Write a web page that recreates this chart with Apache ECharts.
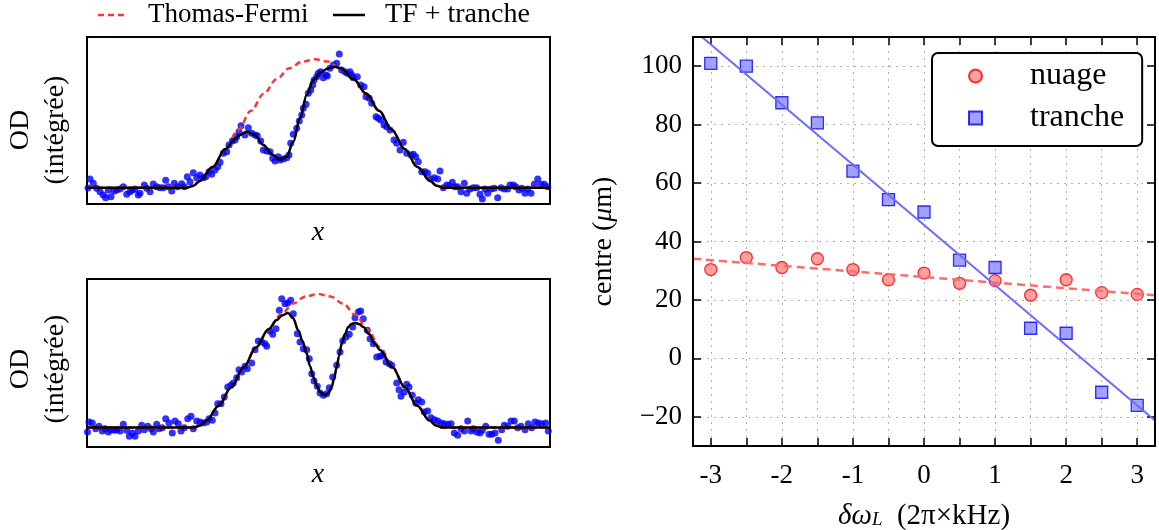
<!DOCTYPE html>
<html><head><meta charset="utf-8">
<script src="https://cdn.jsdelivr.net/npm/echarts@6/dist/echarts.min.js"></script>
<style>html,body{margin:0;padding:0;background:#fff}#c{width:1159px;height:530px}</style>
</head><body><div id="c"></div>
<script>
// ---------- left panels: integrated optical density profiles (arbitrary units) ----------
const topDots = [[1,16],[3,25],[6.3,20.7],[9.7,15.7],[13,12.3],[16.3,9],[18.7,6.3],[21.3,14],[24,7.3],[27.3,13],[29.7,14],[33,15],[36.3,17.3],[39.7,9.7],[43,12.3],[45.3,14],[48,15],[51.3,9],[53,10.7],[57.3,19],[59.7,15.7],[63,12.3],[66.3,20],[69.7,17.3],[73,16.3],[76.3,16.3],[78.7,23.7],[81.3,17.3],[84.7,13],[87.3,20.7],[90.7,17.3],[94.7,20.3],[97.3,17.3],[100.3,27.3],[103,22.3],[106.3,31.3],[109.7,26.3],[113,29],[116.3,26.3],[118.7,27.3],[122,32.3],[124.7,29.7],[128,34],[130.7,37.3],[133,41.7],[136.3,50.7],[139.7,52.3],[142,59],[145.3,63],[148,64],[149.7,67.3],[152,72.3],[154,78.3],
[161.3,76.3],[158,69],[164.7,70.7],[168,69],[170.3,68.3],[173.7,63],[176.3,54],[179.7,53],[183,52.3],[185.7,45.7],[188,43],[191.3,47.3],[193,44],[196.3,45],[199.7,46.3],[202,49],[203.7,60.7],[206.3,69.7],[209.7,75.7],[212.3,83],[214.7,89],[216.3,95.7],[219,99.7],[221.3,110.7],[223.7,114],[225.7,119],[227,124],[229.7,127.3],[231.3,130.7],[233.7,132.3],[236.3,126.3],[239,129],[240.3,128],[243,135.7],[246.3,139],[249.7,140.7],[252.3,150],[254.7,134],[258,132.3],[260.3,130.7],[263,132.3],[264.7,129],[266.3,126.3],[270.3,127.3],[273.7,119],[277,117.3],[279,107.3],[282.3,105.7],[284.7,100.7],[289,87.3],[291.3,85.7],[293.7,84],[297,79],[299.7,77.3],[303,74],[307,64],
[309.7,60.7],[313,54],[316.3,61.7],[319.7,50.7],[324,49],[326.3,49.7],[328.7,47.3],[331.3,42.3],[334.7,32.3],[338,32.3],[340.7,30.7],[344,25],[347.3,26.3],[350.7,25],[353,33],[356.3,16.3],[359.7,19],[362,18.3],[365.3,21.7],[368,17.3],[370.7,17.3],[374,12.3],[377.3,20.7],[379.7,10.7],[383,15],[386.3,16.3],[389.7,16.3],[393,9.7],[395.3,5],[398,15],[400.7,10.7],[404,15],[407.3,15.7],[410.7,6.3],[414,16.3],[417.3,15],[420.7,15],[423,19],[426.3,19],[428.7,17.3],[432,14],[434.7,15.7],[438,10.7],[440.7,15],[444,10.7],[447.3,19.7],[450.7,25],[454,19.7],[457.3,19.7],[460.7,17.3]];
const topTFX  = [0,100,106.4,112.8,125.6,138.4,151.2,164,176.8,189.6,202.4,215.2,228,240.8,253.6,266.4,279.2,292,304.8,317.6,330.4,343.2,349.6,356,463];
const topTFY  = [16.3,16.3,18.3,23.0,37.1,55.0,74.3,93.3,110.4,124.9,135.7,142.4,144.7,142.4,135.7,124.9,110.4,93.3,74.3,55.0,37.1,23.0,18.3,16.3,16.3];
const topFitX = [0,100,106.4,112.8,125.6,138.4,148,153,159.7,168,176.3,186.3,193,199.7,206.3,213,219.7,226.3,234.7,240.8,248,253.6,266.4,279.2,292,304.8,317.6,330.4,343.2,349.6,356,463];
const topFitY = [16.3,16.3,18.3,23.0,37.1,55.0,65,69,72.3,69,59,49,44,47.3,62.3,85.7,109,124,132.3,135.5,137.3,135.7,124.9,110.4,93.3,74.3,55.0,37.1,23.0,18.3,16.3,16.3];

const botDots = [[0.5,15],[2,25],[5.3,24],[8.7,18.3],[12,20.7],[15.3,16],[18,18.3],[21.3,15],[24,17.3],[27.3,16.7],[29.7,17.3],[33,16],[36.3,22.7],[39.7,16.7],[42.3,10.7],[45.3,14],[48,10.7],[51.3,16],[54.7,21.7],[57.3,17.3],[60.7,20.7],[64,18.3],[66.3,15],[69.7,22.7],[72,18.3],[75.3,19.3],[78.7,28.3],[82,24],[85.3,14],[88,26],[91.3,23.3],[94,16],[97.3,19.3],[100.7,28.3],[104,30.7],[106.3,18.3],[109.7,26],[113,25],[116.3,24],[119.7,25],[122,28.3],[125.3,26.7],[128,34],[130.7,43.3],[134,43.3],[137.3,50],[140.7,60],[144,61.7],[146.3,64],[149.7,69.3],[152,77.3],
[154.7,75],[158,80.7],[160.3,78.3],[164.7,84],[168,97.3],[171.3,106],[174.7,105],[178,103.3],[179.7,100.7],[183,116],[185.7,112.7],[189,118.3],[192.3,136.7],[194.7,148.3],[198,143.3],[200.7,144],[203.7,146.7],[206.3,133.3],[210.3,113.3],[213,105],[216.3,98.3],[219.7,97.3],[222.3,88.3],[224.7,73.3],[227,66],[230.3,60.7],[233,54],[236.3,51.7],[239.7,53.3],[242.3,59.3],[245.7,70],[249.7,81.7],[253,95],[255.7,106],[259,110],[262.3,112.7],[265.7,120],[268,129.3],[271.3,135],[273.7,136],[276.3,128.3],[280.3,116.7],[283,108.3],[286.3,103.3],[289.7,90],[293,90.7],[295.7,91.7],[299,85],[302.3,83.3],[304.7,81.7],
[309.7,64],[312,57.3],[314,50.7],[317.3,55],[319.7,62.7],[322,60],[325.3,51.7],[328.7,44],[331.3,47.3],[334.7,45],[337.3,35],[340.7,36],[344,29.3],[347.3,27.3],[350.7,26],[354,24],[357.3,23.3],[360.7,22.7],[364,23.3],[367.3,14],[370.7,11.7],[374,18.3],[377.3,16],[380.7,26],[384,16],[386.3,18.3],[389.7,15],[393,14],[395.3,16.7],[398.7,20.7],[402,12.7],[404.7,12.7],[408,14],[411.3,6.7],[414.7,17.3],[417.3,21.7],[420.7,20.7],[424,26],[427.3,26],[430.7,19.3],[434,20.7],[438,17.3],[441.3,23.3],[444.7,19.3],[448,25],[451.3,24],[454.7,23.3],[458.7,24],[461.3,16]];
const botTFX  = [0,107,113.2,119.4,131.8,144.2,156.6,169,181.4,193.8,206.2,218.6,231,243.4,255.8,268.2,280.6,293,305.4,317.8,330.2,342.6,348.8,355,463];
const botTFY  = [19.5,19.5,21.6,26.4,41.2,59.8,79.8,99.5,117.4,132.4,143.6,150.6,153,150.6,143.6,132.4,117.4,99.5,79.8,59.8,41.2,26.4,21.6,19.5,19.5];
const botFitX = [0,107,113.2,119.4,131.8,144.2,156.6,169,181.4,189.7,195,201,206,211.3,215.5,219.7,223,226.3,230,233,238,241.5,244.7,247,249.7,252,254.7,258,261.3,264.5,268,272,276.3,282,288,293,305.4,317.8,330.2,342.6,348.8,355,463];
const botFitY = [19.5,19.5,21.6,26.4,41.2,59.8,79.8,99.5,117.4,127,131.5,134,129,116.7,106,93.3,81,70,61,55,51.7,54,60,68,80,91,103.3,113,120,123,124,123,120,113,103,97,79.8,59.8,41.2,26.4,21.6,19.5,19.5];

// ---------- right panel: centre vs detuning ----------
const detuning = [-3,-2.5,-2,-1.5,-1,-0.5,0,0.5,1,1.5,2,2.5,3];
const nuage    = [30.4,34.5,31.1,34.1,30.4,26.9,29.2,25.7,26.6,21.6,26.9,22.5,21.9];
const tranche  = [101,100,87.5,80.6,64.1,54.3,50.1,33.6,31.1,10.3,8.6,-11.6,-16.1];
const fitX        = [-3.25, 3.25];
const fitNuage    = [34.1, 21.6];
const fitTranche  = [112.6, -21.3];
const xTickValues = [-3,-2,-1,0,1,2,3];
const xTickLabels = ['-3','-2','-1','0','1','2','3'];
const yTickValues = [-20,0,20,40,60,80,100];
const yTickLabels = ['\u221220','0','20','40','60','80','100'];

const zip = (xs, ys) => xs.map((x, i) => [x, ys[i]]);
const FONT = 'Liberation Serif';
const lookup = (vals, labs) => v => { const i = vals.findIndex(t => Math.abs(t - v) < 1e-6); return i < 0 ? '' : labs[i]; };

const chart = echarts.init(document.getElementById('c'));
const hiddenAxis = (g, max) => ({gridIndex: g, type: 'value', min: 0, max: max, show: false});
const edgeLine = () => ({show: true, onZero: false, lineStyle: {color: '#000', width: 2}});
const tickStyle = () => ({show: true, inside: true, length: 8, lineStyle: {color: '#000', width: 1.5}});
const gridDots = () => ({show: true, showMinLine: false, showMaxLine: false, lineStyle: {color: '#b0b0b0', width: 1, type: [2, 5]}});
const R = {left: 693, top: 37, width: 462, height: 409};

const option = {
  animation: false,
  backgroundColor: '#fff',
  grid: [
    {left: 87, top: 37, width: 463, height: 167, outerBoundsMode: 'none', show: true, borderColor: '#000', borderWidth: 2, backgroundColor: 'transparent'},
    {left: 87, top: 279, width: 463, height: 168, outerBoundsMode: 'none', show: true, borderColor: '#000', borderWidth: 2, backgroundColor: 'transparent'},
    Object.assign({outerBoundsMode: 'none', show: false}, R)
  ],
  xAxis: [
    hiddenAxis(0, 463), hiddenAxis(1, 463),
    {gridIndex: 2, type: 'value', min: -3.25, max: 3.25, splitNumber: 13, position: 'bottom',
     axisLine: edgeLine(), axisTick: tickStyle(), splitLine: gridDots(),
     axisLabel: {margin: 16, fontFamily: FONT, fontSize: 27, color: '#000', formatter: lookup(xTickValues, xTickLabels)},
     name: '{i|\u03b4\u03c9}{s|L}{r|  (2\u03c0\u00d7kHz)}', nameLocation: 'middle', nameGap: 52,
     nameTextStyle: {rich: {
       i: {fontFamily: FONT, fontStyle: 'italic', fontSize: 29, lineHeight: 36, color: '#000'},
       s: {fontFamily: FONT, fontStyle: 'italic', fontSize: 19, lineHeight: 19, color: '#000', verticalAlign: 'top', padding: [12, 0, 0, 0]},
       r: {fontFamily: FONT, fontSize: 29, lineHeight: 36, color: '#000'}}}},
    {gridIndex: 2, type: 'value', min: -3.25, max: 3.25, splitNumber: 13, position: 'top',
     axisLine: edgeLine(), axisTick: tickStyle(), splitLine: {show: false}, axisLabel: {show: false}}
  ],
  yAxis: [
    hiddenAxis(0, 167), hiddenAxis(1, 168),
    {gridIndex: 2, type: 'value', min: -30, max: 110, splitNumber: 7, position: 'left',
     axisLine: edgeLine(), axisTick: tickStyle(), splitLine: gridDots(),
     axisLabel: {margin: 11, fontFamily: FONT, fontSize: 27, color: '#000', formatter: lookup(yTickValues, yTickLabels)},
     name: '{r|centre (}{i|\u03bc}{r|m)}', nameLocation: 'middle', nameGap: 75,
     nameTextStyle: {rich: {
       r: {fontFamily: FONT, fontSize: 28, color: '#000'},
       i: {fontFamily: FONT, fontStyle: 'italic', fontSize: 28, color: '#000'}}}},
    {gridIndex: 2, type: 'value', min: -30, max: 110, splitNumber: 7, position: 'right',
     axisLine: edgeLine(), axisTick: tickStyle(), splitLine: {show: false}, axisLabel: {show: false}}
  ],
  legend: {
    data: [{name: 'nuage', icon: 'circle'}, {name: 'tranche', icon: 'rect'}],
    orient: 'vertical', left: 932, top: 53,
    padding: [7, 18, 12, 36], itemWidth: 13, itemHeight: 13, itemGap: 10, selectedMode: false,
    backgroundColor: '#fff', borderColor: '#000', borderWidth: 2, borderRadius: 6,
    textStyle: {fontFamily: FONT, fontSize: 32, color: '#000', lineHeight: 32, padding: [0, 0, 0, 43]}
  },
  series: [
    {type: 'scatter', xAxisIndex: 0, yAxisIndex: 0, data: topDots, symbolSize: 7, itemStyle: {color: '#0000ff'}, silent: true},
    {type: 'line', xAxisIndex: 0, yAxisIndex: 0, data: zip(topTFX, topTFY), smooth: 0.35, smoothMonotone: 'x', showSymbol: false, lineStyle: {color: '#ff3333', width: 2.5, type: [6, 4]}},
    {type: 'line', xAxisIndex: 0, yAxisIndex: 0, data: zip(topFitX, topFitY), smooth: 0.35, smoothMonotone: 'x', showSymbol: false, lineStyle: {color: '#000', width: 2.5}},
    {type: 'scatter', xAxisIndex: 1, yAxisIndex: 1, data: botDots, symbolSize: 7, itemStyle: {color: '#0000ff'}, silent: true},
    {type: 'line', xAxisIndex: 1, yAxisIndex: 1, data: zip(botTFX, botTFY), smooth: 0.35, smoothMonotone: 'x', showSymbol: false, lineStyle: {color: '#ff3333', width: 2.5, type: [6, 4]}},
    {type: 'line', xAxisIndex: 1, yAxisIndex: 1, data: zip(botFitX, botFitY), smooth: 0.35, smoothMonotone: 'x', showSymbol: false, lineStyle: {color: '#000', width: 2.5}},
    {name: 'fit tranche', type: 'line', xAxisIndex: 2, yAxisIndex: 2, data: zip(fitX, fitTranche), showSymbol: false, lineStyle: {color: '#6b6bff', width: 2}},
    {name: 'fit nuage', type: 'line', xAxisIndex: 2, yAxisIndex: 2, data: zip(fitX, fitNuage), showSymbol: false, lineStyle: {color: '#ff6b6b', width: 2.5, type: [8, 5]}},
    {name: 'nuage', type: 'scatter', xAxisIndex: 2, yAxisIndex: 2, data: zip(detuning, nuage), symbol: 'circle', symbolSize: 12,
     itemStyle: {color: '#ff8a8a', borderColor: '#ff0000', borderWidth: 1.3}},
    {name: 'tranche', type: 'scatter', xAxisIndex: 2, yAxisIndex: 2, data: zip(detuning, tranche), symbol: 'rect', symbolSize: 12,
     itemStyle: {color: '#8a8aff', borderColor: '#0000ff', borderWidth: 1.3}}
  ],
  graphic: [
    {type: 'line', shape: {x1: 98, y1: 15, x2: 126, y2: 15}, style: {stroke: '#ff3333', lineWidth: 2.5, lineDash: [6, 4]}},
    {type: 'text', x: 148, y: 15, style: {text: 'Thomas-Fermi', fontFamily: FONT, fontSize: 27, fill: '#000', textAlign: 'left', textVerticalAlign: 'middle'}},
    {type: 'line', shape: {x1: 333, y1: 15, x2: 365, y2: 15}, style: {stroke: '#000', lineWidth: 2.5}},
    {type: 'text', x: 385, y: 15, style: {text: 'TF + tranche', fontFamily: FONT, fontSize: 28, fill: '#000', textAlign: 'left', textVerticalAlign: 'middle'}},
    {type: 'text', x: 21, y: 130, rotation: Math.PI / 2, style: {text: 'OD', fontFamily: FONT, fontSize: 28, fill: '#000', textAlign: 'center', textVerticalAlign: 'middle'}},
    {type: 'text', x: 56, y: 130, rotation: Math.PI / 2, style: {text: '(int\u00e9gr\u00e9e)', fontFamily: FONT, fontSize: 28, fill: '#000', textAlign: 'center', textVerticalAlign: 'middle'}},
    {type: 'text', x: 21, y: 369, rotation: Math.PI / 2, style: {text: 'OD', fontFamily: FONT, fontSize: 28, fill: '#000', textAlign: 'center', textVerticalAlign: 'middle'}},
    {type: 'text', x: 56, y: 369, rotation: Math.PI / 2, style: {text: '(int\u00e9gr\u00e9e)', fontFamily: FONT, fontSize: 28, fill: '#000', textAlign: 'center', textVerticalAlign: 'middle'}},
    {type: 'text', x: 318, y: 233, style: {text: 'x', fontFamily: FONT, fontStyle: 'italic', fontSize: 28, fill: '#000', textAlign: 'center', textVerticalAlign: 'middle'}},
    {type: 'text', x: 318, y: 475, style: {text: 'x', fontFamily: FONT, fontStyle: 'italic', fontSize: 28, fill: '#000', textAlign: 'center', textVerticalAlign: 'middle'}},
    {type: 'rect', z: 50, silent: true, shape: {x: R.left, y: R.top, width: R.width, height: R.height}, style: {fill: 'none', stroke: '#000', lineWidth: 2}}
  ]
};
chart.setOption(option);
</script></body></html>
